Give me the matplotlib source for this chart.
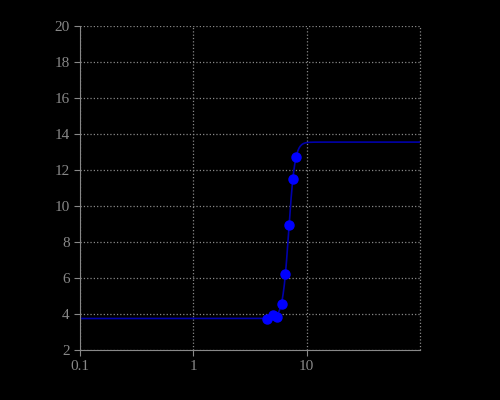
import matplotlib
matplotlib.use("Agg")
import matplotlib.pyplot as plt
import numpy as np
from matplotlib.ticker import FixedLocator, NullLocator

conc = [4.5, 5.0, 5.5, 6.0, 6.5, 7.0, 7.5, 8.0]
resp = [3.72, 3.94, 3.83, 4.56, 6.22, 8.94, 11.5, 12.72]

# fitted Hill curve parameters
bottom, top, ec50, hill = 3.75, 13.55, 6.95, 16.0

fig = plt.figure(figsize=(5, 4), dpi=100, facecolor="black")
ax = fig.add_axes([0.16, 0.125, 0.68, 0.81], facecolor="black")

xs = np.logspace(-1, 2, 600)
ax.plot(xs, bottom + (top - bottom) / (1 + (ec50 / xs) ** hill), color="#0000aa", lw=1.2)
ax.plot(conc, resp, "o", color="#0000ff", ms=6.5)

ax.set_xscale("log")
ax.set_xlim(0.1, 100)
ax.set_ylim(2, 20)
ax.xaxis.set_major_locator(FixedLocator([0.1, 1, 10]))
ax.xaxis.set_minor_locator(NullLocator())
ax.set_xticklabels(["0.1", "1", "10"])
ax.set_yticks(range(2, 21, 2))
ax.grid(True, color="#888888", linestyle=":", linewidth=0.9)
ax.axvline(100, color="#888888", linestyle=":", linewidth=0.9, clip_on=False)
for s in ax.spines.values():
    s.set_visible(False)
ax.spines["left"].set_visible(True)
ax.spines["bottom"].set_visible(True)
ax.spines["left"].set_color("#888888")
ax.spines["bottom"].set_color("#888888")
ax.tick_params(colors="#888888", labelsize=11, length=4)
for lab in ax.get_xticklabels() + ax.get_yticklabels():
    lab.set_family("Liberation Serif")

fig.savefig("out.png", facecolor="black")
